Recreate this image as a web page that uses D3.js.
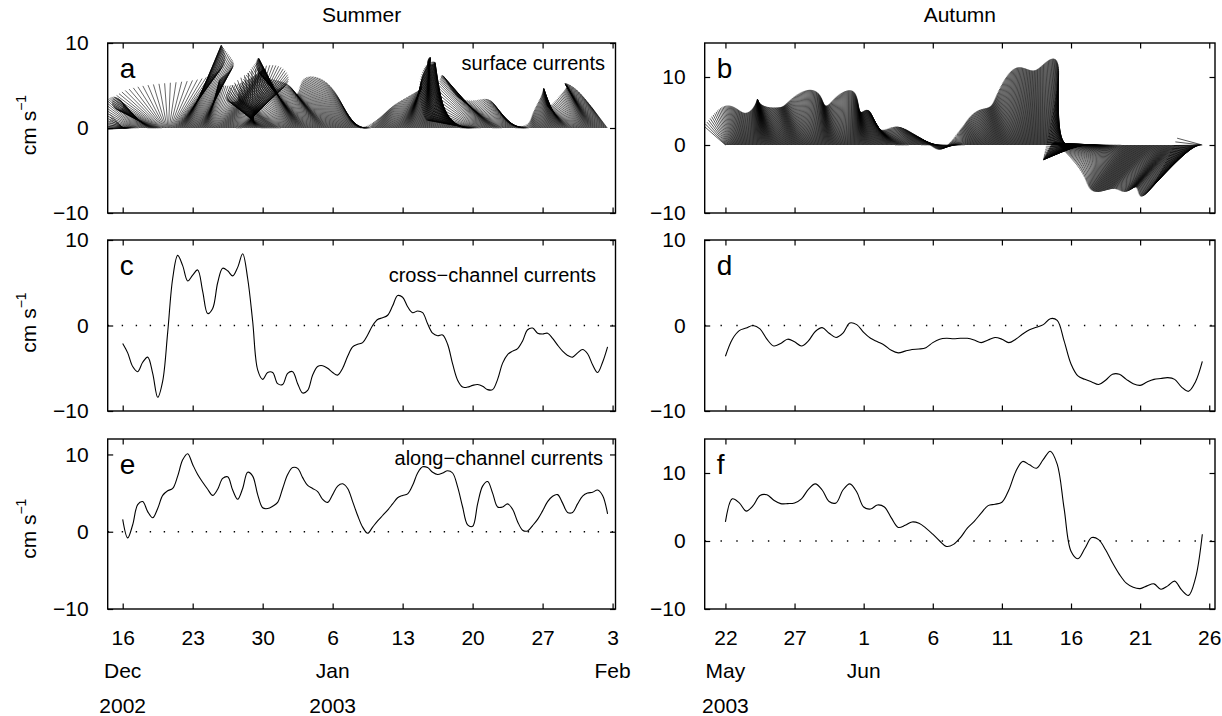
<!DOCTYPE html>
<html>
<head>
<meta charset="utf-8">
<script src="https://cdn.jsdelivr.net/npm/d3@7"></script>
<style>
body { margin: 0; background: #fff; }
svg { font-family: "Liberation Sans", Arial, sans-serif; }
</style>
</head>
<body>
<svg id="fig" width="1222" height="716"></svg>
<script>
var parseDay = d3.utcParse("%Y-%m-%d");
var summerStart = parseDay("2002-12-16");
var autumnStart = parseDay("2003-05-22");
var sampleHours = 12;

// summer (16 Dec 2002 - 2 Feb 2003), cm/s
var summerCross = [
  -2.1, -3.2, -4.8, -5.4, -4.3, -3.7, -5.6, -8.4, -6.5, -0.8,
  5.5, 8.2, 7.0, 5.2, 5.9, 6.5, 4.0, 1.4, 2.0, 5.0,
  6.7, 6.4, 5.8, 6.8, 8.4, 5.5, 0.5, -5.2, -6.3, -5.5,
  -5.5, -6.8, -6.9, -5.6, -5.4, -6.8, -7.9, -7.6, -5.8, -4.8,
  -4.7, -5.0, -5.5, -5.8, -5.0, -3.6, -2.5, -2.2, -2.0, -1.1,
  0.0, 0.7, 0.9, 1.2, 2.3, 3.5, 3.3, 2.2, 1.5, 1.7,
  1.5, 0.2, -0.9, -1.2, -1.1, -2.2, -4.5, -6.4, -7.2, -7.2,
  -7.0, -6.9, -7.1, -7.5, -7.5, -6.3, -4.4, -3.4, -3.0, -2.7,
  -1.8, -0.5, -0.3, -0.9, -1.0, -0.9, -1.5, -2.3, -3.0, -3.5,
  -3.7, -3.2, -2.8, -3.3, -4.6, -5.5, -4.3, -2.5
];
var summerAlong = [
  1.6, -0.8, 0.9, 3.5, 3.9, 2.6, 1.8, 3.0, 4.7, 5.3,
  5.6, 7.2, 9.3, 10.1, 8.7, 7.4, 6.4, 5.5, 4.7, 5.5,
  6.9, 7.1, 5.4, 4.2, 5.6, 7.7, 7.2, 4.8, 3.1, 3.0,
  3.3, 3.8, 5.6, 7.4, 8.3, 8.2, 7.0, 6.0, 5.6, 5.2,
  4.2, 3.8, 4.8, 5.9, 6.2, 5.6, 3.9, 2.1, 0.6, -0.2,
  0.6, 1.4, 2.1, 2.8, 3.6, 4.4, 4.7, 4.9, 6.0, 7.6,
  8.4, 8.3, 7.7, 7.4, 7.6, 7.9, 7.6, 5.8, 3.2, 0.9,
  0.7, 3.6, 5.9, 6.5, 5.0, 3.2, 3.2, 3.6, 2.9, 1.3,
  0.2, 0.1, 0.8, 1.6, 2.7, 3.9, 4.6, 4.8, 3.7, 2.5,
  2.5, 3.6, 4.6, 5.0, 5.1, 5.4, 4.7, 2.3
];

// autumn (22 May - 25 Jun 2003), cm/s
var autumnCross = [
  -3.6, -1.6, -0.6, -0.3, 0.0, -0.4, -1.6, -2.4, -2.1, -1.6,
  -1.9, -2.4, -1.8, -0.7, -0.25, -0.9, -1.4, -0.9, 0.3, 0.1,
  -0.8, -1.5, -1.9, -2.3, -2.9, -3.2, -3.0, -2.8, -2.75, -2.6,
  -2.0, -1.6, -1.5, -1.55, -1.5, -1.5, -1.7, -2.0, -1.7, -1.4,
  -1.6, -2.0, -1.6, -1.0, -0.5, -0.2, 0.1, 0.8, 0.6, -1.8,
  -4.5, -5.9, -6.3, -6.6, -6.9, -6.4, -5.7, -5.7, -6.3, -6.8,
  -7.0, -6.6, -6.3, -6.2, -6.1, -6.3, -7.2, -7.7, -6.6, -4.2
];
var autumnAlong = [
  2.8, 6.2, 5.6, 4.4, 5.2, 6.7, 6.8, 6.0, 5.5, 5.5,
  5.6, 6.2, 7.6, 8.4, 7.5, 5.8, 5.6, 7.5, 8.4, 7.2,
  5.0, 4.7, 5.3, 5.0, 3.4, 2.0, 2.3, 2.8, 2.6, 1.9,
  1.0, 0.0, -0.8, -0.5, 0.5, 1.9, 2.9, 4.1, 5.2, 5.4,
  5.7, 7.5, 10.2, 11.7, 11.2, 10.7, 12.0, 13.2, 11.3, 4.8,
  -1.5, -2.6, -1.1, 0.5, 0.2, -1.3, -3.2, -4.9, -6.2, -6.8,
  -7.0, -6.6, -6.3, -7.1, -6.6, -5.9, -7.2, -8.0, -5.5, 1.0
];

// axis ticks and date labels
var summerTickDates = ["2002-12-16", "2002-12-23", "2002-12-30", "2003-01-06", "2003-01-13", "2003-01-20", "2003-01-27", "2003-02-03"];
var autumnTickDates = ["2003-05-22", "2003-05-27", "2003-06-01", "2003-06-06", "2003-06-11", "2003-06-16", "2003-06-21", "2003-06-26"];
var summerMonths = ["Dec", "Jan", "Feb"];
var summerMonthDates = ["2002-12-16", "2003-01-06", "2003-02-03"];
var summerYears = ["2002", "2003"];
var summerYearDates = ["2002-12-16", "2003-01-06"];
var autumnMonths = ["May", "Jun"];
var autumnMonthDates = ["2003-05-22", "2003-06-01"];
var autumnYears = ["2003"];
var autumnYearDates = ["2003-05-22"];
var yTickValues = [-10, 0, 10];

var seasons = ["Summer", "Autumn"];
var panelLetters = [["a", "c", "e"], ["b", "d", "f"]];
var panelNotes = ["surface currents", "cross\u2212channel currents", "along\u2212channel currents"];
var yDomains = [[[-10, 10], [-10, 10], [-10, 12]], [[-10, 15], [-10, 10], [-10, 15]]];

var svg = d3.select("#fig");
var rowTop = [43, 240, 439], rowBottom = [213, 411, 609];
var colLeft = [107.7, 704.7], colRight = [615.5, 1215];
var tickLen = 5.5;
var stickScale = 6; // px per cm/s for the cross-channel part of a stick
var dayFmt = d3.utcFormat("%-d");
var minus = function(d) { return d < 0 ? "\u2212" + Math.abs(d) : String(d); };

var cols = [
  {start: summerStart, before: -36, after: 1183, cross: summerCross, along: summerAlong,
   ticks: summerTickDates, months: summerMonths, monthAt: summerMonthDates,
   years: summerYears, yearAt: summerYearDates, stickMinutes: 100, stickWidth: 0.6, dotGap: 12.6, noteX: [605, 596, 603]},
  {start: autumnStart, before: -36, after: 850, cross: autumnCross, along: autumnAlong,
   ticks: autumnTickDates, months: autumnMonths, monthAt: autumnMonthDates,
   years: autumnYears, yearAt: autumnYearDates, stickMinutes: 60, stickWidth: 0.65, dotGap: 14.4, noteX: null}
];

cols.forEach(function(c, ci) {
  var n = c.cross.length;
  var times = d3.range(n).map(function(i) { return d3.utcHour.offset(c.start, i * sampleHours); });
  var x = d3.scaleUtc()
    .domain([d3.utcHour.offset(c.start, c.before), d3.utcHour.offset(c.start, c.after)])
    .range([colLeft[ci], colRight[ci]]);
  var tickDates = c.ticks.map(parseDay);

  svg.append("text")
    .attr("x", (colLeft[ci] + colRight[ci]) / 2)
    .attr("y", 22)
    .attr("text-anchor", "middle")
    .attr("font-size", 21)
    .text(seasons[ci]);

  for (var r = 0; r < 3; r++) {
    var y = d3.scaleLinear().domain(yDomains[ci][r]).range([rowBottom[r], rowTop[r]]);
    var g = svg.append("g");
    var clipId = "clip-" + panelLetters[ci][r];

    g.append("clipPath").attr("id", clipId)
      .append("rect")
      .attr("x", colLeft[ci]).attr("y", rowTop[r])
      .attr("width", colRight[ci] - colLeft[ci]).attr("height", rowBottom[r] - rowTop[r]);

    var plot = g.append("g").attr("clip-path", "url(#" + clipId + ")");

    if (r == 0) {
      // stick plot: base on the zero line, tip at (cross, along)
      var uAt = d3.interpolateBasis(c.cross);
      var vAt = d3.interpolateBasis(c.along);
      var span = d3.scaleUtc().domain([times[0], times[n - 1]]).range([0, 1]);
      var totalMin = (n - 1) * sampleHours * 60;
      var fine = d3.range(0, totalMin + 1, c.stickMinutes).map(function(m) { return d3.utcMinute.offset(c.start, m); });
      var path = fine.map(function(t) {
        var bx = x(t), f = span(t);
        return "M" + bx + "," + y(0) + "L" + (bx + uAt(f) * stickScale) + "," + y(vAt(f));
      }).join("");
      plot.append("path")
        .attr("d", path)
        .attr("fill", "none")
        .attr("stroke", "#000")
        .attr("stroke-width", c.stickWidth);
    } else {
      var vals = r == 1 ? c.cross : c.along;
      plot.append("line")
        .attr("x1", colLeft[ci]).attr("x2", colRight[ci])
        .attr("y1", y(0)).attr("y2", y(0))
        .attr("stroke", "#000")
        .attr("stroke-width", 1.4)
        .attr("stroke-dasharray", "1.4," + c.dotGap);
      var line = d3.line()
        .x(function(d, i) { return x(times[i]); })
        .y(function(d) { return y(d); })
        .curve(d3.curveCatmullRom.alpha(0.5));
      plot.append("path")
        .attr("d", line(vals))
        .attr("fill", "none")
        .attr("stroke", "#000")
        .attr("stroke-width", 1.1);
    }

    // ticks on all four sides, pointing in
    g.append("g")
      .attr("transform", "translate(0," + rowBottom[r] + ")")
      .call(d3.axisBottom(x).tickValues(tickDates).tickSize(-tickLen).tickSizeOuter(0).tickPadding(21)
        .tickFormat(r == 2 ? dayFmt : function() { return ""; }));
    g.append("g")
      .attr("transform", "translate(0," + rowTop[r] + ")")
      .call(d3.axisTop(x).tickValues(tickDates).tickSize(-tickLen).tickSizeOuter(0).tickFormat(""));
    g.append("g")
      .attr("transform", "translate(" + colLeft[ci] + ",0)")
      .call(d3.axisLeft(y).tickValues(yTickValues).tickSize(-tickLen).tickSizeOuter(0).tickPadding(19).tickFormat(minus));
    g.append("g")
      .attr("transform", "translate(" + colRight[ci] + ",0)")
      .call(d3.axisRight(y).tickValues(yTickValues).tickSize(-tickLen).tickSizeOuter(0).tickFormat(""));

    g.selectAll(".domain").remove();
    g.selectAll(".tick line").attr("stroke", "#000").attr("stroke-width", 1.2);
    g.selectAll(".tick text").attr("font-size", 21).attr("font-family", null).attr("fill", "#000");

    g.append("rect")
      .attr("x", colLeft[ci]).attr("y", rowTop[r])
      .attr("width", colRight[ci] - colLeft[ci]).attr("height", rowBottom[r] - rowTop[r])
      .attr("fill", "none")
      .attr("stroke", "#000")
      .attr("stroke-width", 1.4);

    g.append("text")
      .attr("x", colLeft[ci] + 12)
      .attr("y", rowTop[r] + 35)
      .attr("font-size", 28)
      .text(panelLetters[ci][r]);

    if (c.noteX) {
      g.append("text")
        .attr("x", c.noteX[r])
        .attr("y", rowTop[r] + [27, 42, 26][r])
        .attr("text-anchor", "end")
        .attr("font-size", 20)
        .text(panelNotes[r]);

      var lab = g.append("text")
        .attr("transform", "translate(36," + (y(0) - 3) + ") rotate(-90)")
        .attr("text-anchor", "middle")
        .attr("font-size", 21);
      lab.append("tspan").text("cm s");
      lab.append("tspan").attr("font-size", 14).attr("dy", "-0.7em").text("\u22121");
    }
  }

  // month and year rows under the bottom panel
  svg.append("g").selectAll("text")
    .data(c.months)
    .enter().append("text")
    .attr("x", function(d, i) { return x(parseDay(c.monthAt[i])); })
    .attr("y", 678)
    .attr("text-anchor", "middle")
    .attr("font-size", 21)
    .text(function(d) { return d; });
  svg.append("g").selectAll("text")
    .data(c.years)
    .enter().append("text")
    .attr("x", function(d, i) { return x(parseDay(c.yearAt[i])); })
    .attr("y", 713)
    .attr("text-anchor", "middle")
    .attr("font-size", 21)
    .text(function(d) { return d; });
});
</script>
</body>
</html>
